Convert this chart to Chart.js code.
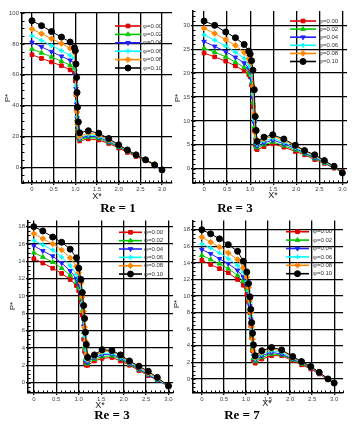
<!DOCTYPE html>
<html lang="en">
<head>
<meta charset="UTF-8">
<title>P* vs X*</title>
<script src="https://cdn.jsdelivr.net/npm/chart.js@4"></script>
<style>
  body { margin: 0; background: #fff; }
  .wrap { position: relative; width: 362px; height: 430px; overflow: hidden; }
  .wrap canvas { position: absolute; }
  .txt { position: absolute; transform: translate(-50%, -50%); white-space: nowrap; color: #222; }
  .ax { font-family: "Liberation Sans", sans-serif; font-size: 9px; }
  .py { transform: translate(-50%, -50%) rotate(-90deg); font-size: 8px; }
  .re { font-family: "Liberation Serif", serif; font-weight: bold; font-size: 13px; color: #000; }
</style>
</head>
<body>
<div class="wrap">
  <canvas id="c1" width="181" height="200" style="left:0;top:0"></canvas>
  <canvas id="c2" width="181" height="200" style="left:181px;top:0"></canvas>
  <canvas id="c3" width="181" height="192" style="left:0;top:215px"></canvas>
  <canvas id="c4" width="181" height="192" style="left:181px;top:215px"></canvas>

  <div class="txt ax py" style="left:7px;top:98px">P*</div>
  <div class="txt ax" style="left:97px;top:196px">X*</div>
  <div class="txt re" style="left:118px;top:208px">Re = 1</div>

  <div class="txt ax py" style="left:177px;top:98px">P*</div>
  <div class="txt ax" style="left:273px;top:195px">X*</div>
  <div class="txt re" style="left:235px;top:208px">Re = 3</div>

  <div class="txt ax py" style="left:12px;top:306px">P*</div>
  <div class="txt ax" style="left:100px;top:405px">X*</div>
  <div class="txt re" style="left:112px;top:415px">Re = 3</div>

  <div class="txt ax py" style="left:176px;top:304px">P*</div>
  <div class="txt ax" style="left:267px;top:403px">X*</div>
  <div class="txt re" style="left:242px;top:415px">Re = 7</div>
</div>

<script>
// series names and colours
const seriesLabels = ['φ=0.00', 'φ=0.02', 'φ=0.04', 'φ=0.06', 'φ=0.08', 'φ=0.10'];
const seriesColors = ['#e00000', '#00c800', '#2222ff', '#00ffff', '#ff8800', '#000000'];

// Re = 1 (top left)
const re1X    = [0, 0.22, 0.45, 0.68, 0.88, 0.98, 1.0, 1.015, 1.03, 1.04, 1.05, 1.07, 1.1, 1.3, 1.54, 1.77, 2.0, 2.2, 2.4, 2.62, 2.83, 3.0];
const re1P000 = [73, 70.6, 68.3, 65.9, 63.2, 61.5, 56, 47, 38, 30, 24, 19.5, 17.2, 18.5, 17.8, 15.6, 12.6, 9.8, 7.2, 4.5, 1.8, -1.8];
const re1P002 = [76.7, 74.2, 71.6, 68.8, 66.2, 64.5, 58, 49, 40, 31, 25, 20.5, 18, 19.5, 18.8, 16.2, 13.2, 10.4, 7.6, 4.8, 2.0, -2.2];
const re1P004 = [81, 78.1, 75, 72, 69.4, 67.5, 60, 51, 41, 32, 26, 21, 18.6, 20.4, 19.6, 16.8, 13.6, 10.8, 7.9, 5.0, 2.1, -2.6];
const re1P006 = [85.3, 82.2, 78.9, 75.6, 72.6, 70.8, 63, 53, 43, 33, 27, 21.8, 19.2, 21.2, 20.2, 17.3, 14.0, 11.1, 8.1, 5.2, 2.2, -2.3];
const re1P008 = [89.6, 86.6, 83.4, 80.2, 77.2, 74.5, 68, 58, 47, 36, 28, 22.5, 20.2, 22.4, 21.0, 17.9, 14.4, 11.3, 8.2, 5.2, 2.0, -2.0];
const re1P010 = [95, 91.8, 88, 84.4, 81.2, 77.5, 75.6, 67, 58.3, 48.6, 39, 29.5, 22.5, 23.8, 22.2, 18.8, 14.7, 11.4, 8.2, 5.0, 1.7, -1.5];

// Re = 3 (top right)
const re3aX    = [0, 0.23, 0.47, 0.68, 0.87, 0.97, 1.0, 1.03, 1.06, 1.09, 1.11, 1.13, 1.15, 1.3, 1.49, 1.73, 1.98, 2.18, 2.4, 2.61, 2.82, 3.0];
const re3aP000 = [24.2, 23.4, 22.5, 21.5, 20.5, 19.7, 19.2, 17.5, 13.0, 8.0, 5.0, 4.2, 4.0, 4.6, 5.2, 4.5, 3.6, 2.9, 1.9, 1.1, 0.1, -0.6];
const re3aP002 = [25.2, 24.4, 23.4, 22.3, 21.2, 20.2, 19.7, 18.0, 13.8, 8.8, 5.4, 4.6, 4.4, 5.0, 5.6, 4.8, 3.9, 3.1, 2.1, 1.2, 0.2, -0.7];
const re3aP004 = [26.6, 25.6, 24.5, 23.3, 22.1, 21.0, 20.4, 18.7, 14.8, 9.5, 6.0, 5.0, 4.8, 5.4, 6.0, 5.2, 4.2, 3.3, 2.3, 1.3, 0.3, -0.8];
const re3aP006 = [28.0, 26.9, 25.7, 24.4, 23.1, 21.9, 21.2, 19.4, 15.6, 10.2, 6.5, 5.4, 5.1, 5.8, 6.4, 5.5, 4.4, 3.5, 2.5, 1.4, 0.3, -0.9];
const re3aP008 = [29.4, 28.3, 27.0, 25.8, 24.3, 23.0, 22.3, 20.6, 17.2, 11.5, 7.5, 6.2, 5.5, 6.2, 6.8, 5.9, 4.7, 3.7, 2.7, 1.6, 0.4, -0.8];
const re3aP010 = [30.9, 30.0, 28.6, 27.4, 26.0, 24.6, 24.0, 22.6, 20.6, 16.5, 10.9, 8.0, 5.7, 6.6, 7.1, 6.2, 4.9, 3.8, 2.9, 1.7, 0.5, -0.9];

// Re = 3 (bottom left)
const re3bX    = [0, 0.2, 0.42, 0.62, 0.81, 0.95, 1.0, 1.05, 1.08, 1.11, 1.13, 1.15, 1.17, 1.2, 1.35, 1.52, 1.74, 1.93, 2.13, 2.34, 2.55, 2.75, 3.0];
const re3bP000 = [14.3, 13.8, 13.2, 12.6, 11.9, 11.2, 10.6, 9.3, 7.8, 5.0, 3.6, 2.3, 2.0, 2.0, 2.5, 2.8, 2.9, 2.5, 2.0, 1.4, 0.8, 0.3, -0.4];
const re3bP002 = [15.0, 14.5, 13.9, 13.2, 12.4, 11.6, 11.0, 9.8, 8.3, 5.8, 4.1, 2.7, 2.2, 2.2, 2.7, 3.0, 3.1, 2.7, 2.1, 1.5, 0.9, 0.3, -0.4];
const re3bP004 = [15.8, 15.2, 14.6, 13.8, 12.9, 12.0, 11.4, 10.2, 8.8, 6.5, 4.7, 3.2, 2.4, 2.4, 2.9, 3.2, 3.3, 2.8, 2.2, 1.6, 0.9, 0.3, -0.4];
const re3bP006 = [16.4, 15.9, 15.3, 14.5, 13.5, 12.5, 11.9, 10.7, 9.2, 7.2, 5.3, 3.7, 2.6, 2.6, 3.0, 3.4, 3.4, 2.9, 2.3, 1.7, 1.0, 0.4, -0.4];
const re3bP008 = [17.2, 16.6, 16.0, 15.3, 14.4, 13.4, 12.7, 11.5, 9.9, 8.2, 6.4, 4.8, 3.3, 2.7, 3.1, 3.6, 3.6, 3.1, 2.4, 1.8, 1.1, 0.5, -0.4];
const re3bP010 = [18.0, 17.5, 16.8, 16.2, 15.4, 14.4, 13.2, 11.9, 10.4, 8.9, 7.4, 5.8, 4.4, 2.9, 3.2, 3.8, 3.7, 3.2, 2.5, 1.9, 1.3, 0.6, -0.4];

// Re = 7 (bottom right)
const re7X    = [0, 0.2, 0.4, 0.6, 0.81, 0.94, 1.02, 1.06, 1.09, 1.11, 1.13, 1.15, 1.17, 1.21, 1.36, 1.58, 1.81, 2.06, 2.26, 2.47, 2.66, 2.86, 3.0];
const re7P000 = [14.3, 13.8, 13.3, 12.8, 12.0, 11.3, 10.2, 9.3, 8.0, 6.4, 5.0, 3.4, 2.2, 1.9, 2.4, 2.8, 2.8, 2.2, 1.7, 1.2, 0.6, -0.1, -0.5];
const re7P002 = [14.9, 14.4, 13.9, 13.3, 12.5, 11.8, 10.8, 9.7, 8.4, 6.8, 5.3, 3.8, 2.5, 2.1, 2.6, 3.0, 2.9, 2.3, 1.8, 1.3, 0.7, 0.0, -0.5];
const re7P004 = [15.6, 15.1, 14.5, 13.9, 13.1, 12.3, 11.3, 10.1, 8.8, 7.2, 5.7, 4.1, 2.8, 2.3, 2.8, 3.2, 3.0, 2.4, 1.9, 1.3, 0.7, 0.0, -0.5];
const re7P006 = [16.3, 15.8, 15.2, 14.5, 13.7, 12.9, 11.8, 10.6, 9.2, 7.6, 6.0, 4.4, 3.0, 2.4, 3.0, 3.4, 3.2, 2.5, 2.0, 1.4, 0.7, 0.0, -0.5];
const re7P008 = [17.1, 16.5, 15.9, 15.2, 14.4, 13.4, 12.3, 11.0, 9.5, 8.0, 6.3, 4.8, 3.4, 2.6, 3.2, 3.6, 3.4, 2.6, 2.0, 1.4, 0.8, 0.0, -0.5];
const re7P010 = [18.0, 17.5, 16.9, 16.2, 15.4, 14.2, 12.9, 11.5, 9.9, 8.4, 6.8, 5.5, 4.1, 2.8, 3.4, 3.8, 3.5, 2.7, 2.1, 1.5, 0.8, 0.0, -0.5];

// marker for each series (square, triangle, down triangle, cross, diamond, circle)
const markers = [
  { style: 'rect', rot: 0, r: 2.6, bw: 1 },
  { style: 'triangle', rot: 0, r: 2.6, bw: 1 },
  { style: 'triangle', rot: 180, r: 2.6, bw: 1 },
  { style: 'cross', rot: 0, r: 2.4, bw: 1.6 },
  { style: 'rectRot', rot: 0, r: 2.8, bw: 1 },
  { style: 'circle', rot: 0, r: 3, bw: 1 }
];

// legend drawn inside the plot, like the original
const insideLegend = {
  id: 'insideLegend',
  afterDatasetsDraw(chart, args, o) {
    const ctx = chart.ctx;
    ctx.save();
    ctx.font = '6px "Liberation Sans"';
    ctx.textBaseline = 'middle';
    chart.data.datasets.forEach((ds, i) => {
      const y = o.y0 + i * o.dy;
      ctx.strokeStyle = ds.borderColor;
      ctx.lineWidth = 1.6;
      ctx.beginPath();
      ctx.moveTo(o.x0, y);
      ctx.lineTo(o.x1, y);
      ctx.stroke();
      ctx.fillStyle = ds.backgroundColor;
      ctx.lineWidth = ds.pointBorderWidth;
      Chart.helpers.drawPoint(ctx, {
        pointStyle: ds.pointStyle, rotation: ds.pointRotation, radius: ds.pointRadius, borderWidth: ds.pointBorderWidth
      }, (o.x0 + o.x1) / 2, y);
      ctx.fillStyle = '#333';
      ctx.fillText(ds.label, o.tx, y);
    });
    ctx.restore();
  }
};

// small inward ticks on the left and bottom axes
const minorTicks = {
  id: 'minorTicks',
  afterDraw(chart, args, o) {
    const { ctx, chartArea: a } = chart;
    const sx = chart.scales.x, sy = chart.scales.y;
    ctx.save();
    ctx.strokeStyle = '#000';
    ctx.lineWidth = 1;
    ctx.beginPath();
    for (let k = Math.ceil(sx.min / o.x); k * o.x <= sx.max; k++) {
      const px = Math.round(sx.getPixelForValue(k * o.x)) + 0.5;
      ctx.moveTo(px, a.bottom);
      ctx.lineTo(px, a.bottom - 2.5);
    }
    for (let k = Math.ceil(sy.min / o.y); k * o.y <= sy.max; k++) {
      const py = Math.round(sy.getPixelForValue(k * o.y)) + 0.5;
      ctx.moveTo(a.left, py);
      ctx.lineTo(a.left + 2.5, py);
    }
    ctx.stroke();
    ctx.restore();
  }
};

function buildChart(id, xs, series, opt) {
  const datasets = series.map((ps, i) => ({
    label: seriesLabels[i],
    data: xs.map((x, k) => ({ x: x, y: ps[k] })),
    borderColor: seriesColors[i],
    backgroundColor: seriesColors[i],
    borderWidth: 1,
    pointStyle: markers[i].style,
    pointRotation: markers[i].rot,
    pointRadius: markers[i].r,
    pointBorderWidth: markers[i].bw,
    order: series.length - i
  }));

  const tickFont = { size: 6, family: 'Liberation Sans' };
  new Chart(document.getElementById(id), {
    type: 'line',
    data: { datasets: datasets },
    options: {
      responsive: false,
      animation: false,
      layout: { padding: opt.pad },
      plugins: {
        legend: { display: false },
        tooltip: { enabled: false },
        insideLegend: opt.legend,
        minorTicks: { x: 0.1, y: opt.yMinor }
      },
      scales: {
        x: {
          type: 'linear', min: opt.xMin, max: opt.xMax,
          afterFit: s => { s.height = 12; },
          ticks: { stepSize: 0.5, includeBounds: false, font: tickFont, color: '#444', padding: 1, maxRotation: 0, autoSkip: false },
          grid: { color: '#000', lineWidth: 1.3, tickLength: 2 },
          border: { color: '#000', width: 1.5 }
        },
        y: {
          min: opt.yMin, max: opt.yMax,
          afterFit: s => { s.width = opt.yw; },
          ticks: { stepSize: opt.yStep, includeBounds: false, font: tickFont, color: '#444', padding: 1, autoSkip: false },
          grid: { color: '#000', lineWidth: 1.3, tickLength: 2 },
          border: { color: '#000', width: 1.5 }
        }
      }
    },
    plugins: [insideLegend, minorTicks]
  });
}

buildChart('c1', re1X, [re1P000, re1P002, re1P004, re1P006, re1P008, re1P010], {
  xMin: -0.23, xMax: 3.23, yMin: -10, yMax: 100, yStep: 20, yMinor: 5, yw: 14,
  pad: { left: 8, right: 9, top: 13, bottom: 5 },
  legend: { x0: 115, x1: 141, tx: 143, y0: 26, dy: 8.4 }
});

buildChart('c2', re3aX, [re3aP000, re3aP002, re3aP004, re3aP006, re3aP008, re3aP010], {
  xMin: -0.24, xMax: 3.1, yMin: -3, yMax: 33, yStep: 5, yMinor: 1, yw: 10,
  pad: { left: 2, right: 15, top: 11, bottom: 5 },
  legend: { x0: 109, x1: 135, tx: 138, y0: 21, dy: 8.1 }
});

buildChart('c3', re3bX, [re3bP000, re3bP002, re3bP004, re3bP006, re3bP008, re3bP010], {
  xMin: -0.13, xMax: 3.1, yMin: -1.2, yMax: 18.7, yStep: 2, yMinor: 0.5, yw: 14,
  pad: { left: 14, right: 8, top: 5, bottom: 2 },
  legend: { x0: 119, x1: 142, tx: 144, y0: 17.3, dy: 8.35 }
});

buildChart('c4', re7X, [re7P000, re7P002, re7P004, re7P006, re7P008, re7P010], {
  xMin: -0.2, xMax: 3.2, yMin: -1.7, yMax: 19.1, yStep: 2, yMinor: 0.5, yw: 10,
  pad: { left: 2, right: 19, top: 4, bottom: 2 },
  legend: { x0: 105, x1: 128, tx: 132, y0: 16.7, dy: 8.4 }
});
</script>
</body>
</html>
